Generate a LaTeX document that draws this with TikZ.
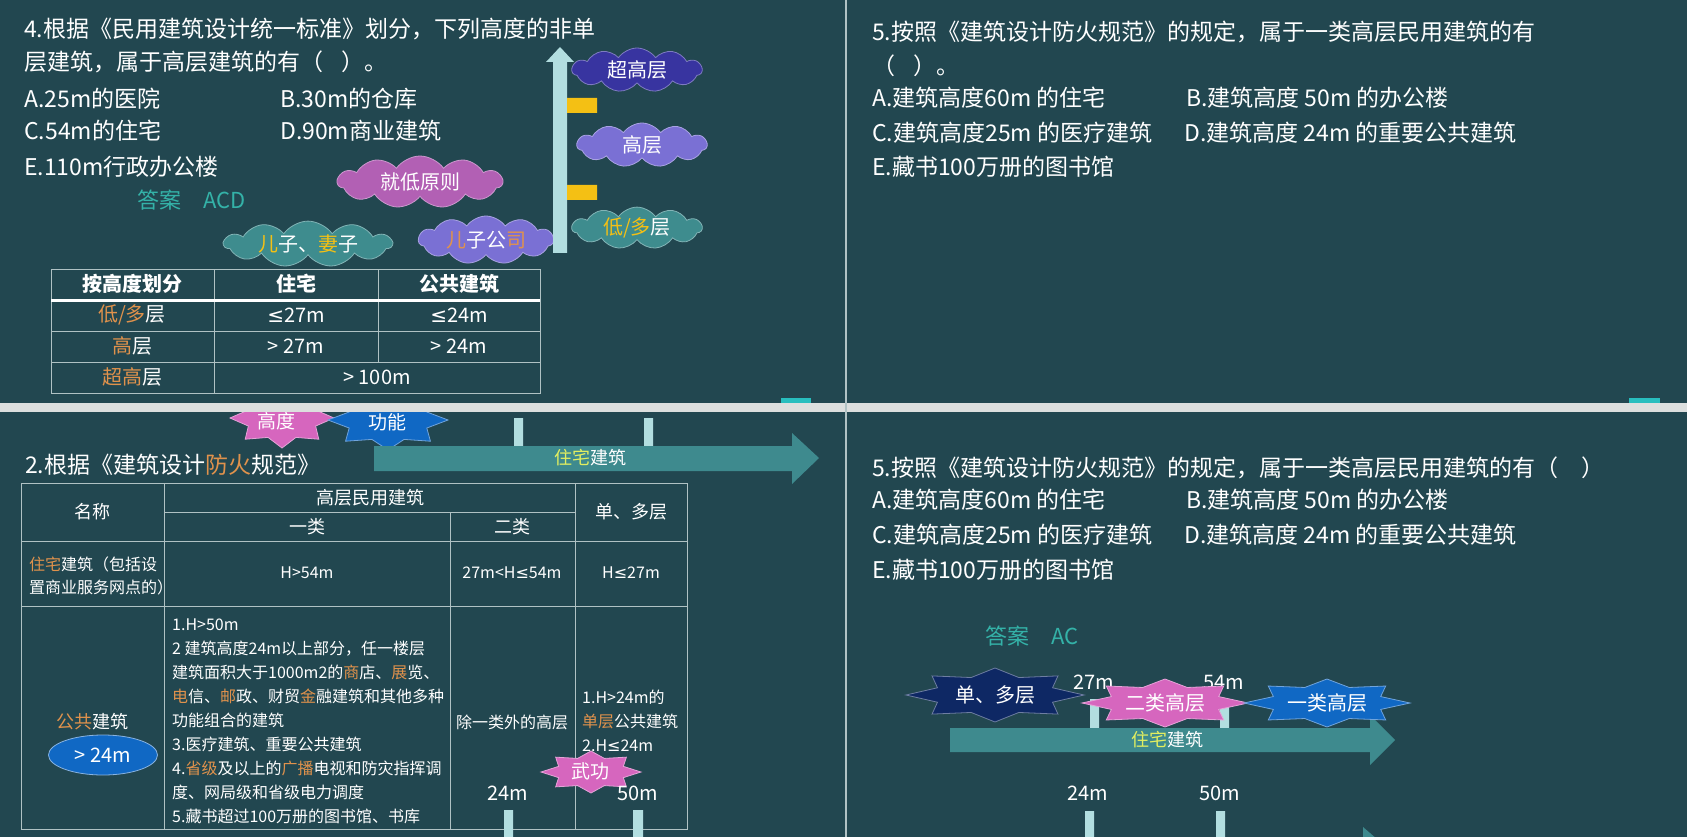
\documentclass[tikz,border=0pt]{standalone}
\usepackage{fontspec}
\setmainfont{Noto Sans CJK SC}
\newfontfamily\symf{DejaVu Sans}
\usetikzlibrary{shapes.symbols,shapes.geometric}
\definecolor{slidebg}{RGB}{34,71,80}
\definecolor{hl}{RGB}{224,146,76}
\definecolor{ans}{RGB}{52,178,168}
\definecolor{lime}{RGB}{226,238,96}
\definecolor{gold}{RGB}{244,192,20}
\definecolor{gridc}{RGB}{176,194,196}
\definecolor{barc}{RGB}{178,222,224}
\definecolor{arrowc}{RGB}{62,138,142}
\definecolor{pinkc}{RGB}{214,102,190}
\definecolor{bluec}{RGB}{16,104,196}
\definecolor{navyc}{RGB}{14,40,100}
\definecolor{mauvec}{RGB}{178,96,180}
\definecolor{lilac}{RGB}{122,112,212}
\definecolor{indigoc}{RGB}{56,52,160}
\definecolor{tealc}{RGB}{62,140,142}
\definecolor{bandc}{RGB}{220,223,222}
\definecolor{tabc}{RGB}{40,190,190}
\newcommand\hi[1]{\textcolor{hl}{#1}}
\newcommand\lteq{{\symf\char"2264}}
\newcommand\fs[1]{\fontsize{#1}{24}\selectfont}
% burst: centre, x radius, y radius, colour
\newcommand\burst[4]{\fill[#4,draw=white!40!#4,line width=.8,shift={(#1)}]
 plot[samples at={0,...,15}]({\x*22.5}:{#2*(1-.3*mod(\x,2))} and {#3*(1-.3*mod(\x,2))})--cycle;}
\begin{document}
\begin{tikzpicture}[x=1pt,y=-1pt,
 txt/.style={text=white,inner sep=0,font=\fs{23}},
 q/.style={txt,anchor=west},
 cell/.style={text=white,inner sep=0,font=\fs{16}},
 head/.style={cell,font=\fs{18}},
 tag/.style={cell,font=\fs{20}},
 puff/.style={cloud,cloud puffs=11,cloud puff arc=110,cloud ignores aspect,inner sep=0,
  fill=#1,draw=white!35!#1,line width=.8,text=white,font=\fs{20}},
 grid/.style={draw=gridc,line width=1},
 bar/.style={fill=barc}]
\useasboundingbox(0,0)rectangle(1687,837);
\fill[slidebg](0,0)rectangle(1687,837);

% top left
\node[q](q4)at(24,29){4.根据《民用建筑设计统一标准》划分，下列高度的非单};
\node[q](q4b)at(24,62){层建筑，属于高层建筑的有（\hspace{.8em}）。};
\node[q](q4A)at(24,99){A.25m的医院};
\node[q](q4B)at(280,99){B.30m的仓库};
\node[q](q4C)at(24,131){C.54m的住宅};
\node[q](q4D)at(280,131){D.90m商业建筑};
\node[q](q4E)at(24,167){E.110m行政办公楼};
\node[q,text=ans,font=\fs{22}](ans4)at(137,200){答案\hspace{22pt}ACD};
\node[puff=mauvec,minimum width=165,minimum height=52](low)at(420,182){就低原则};
\node[puff=tealc,minimum width=168,minimum height=40](son)at(308,244){\textcolor{gold}{儿}子、\textcolor{gold}{妻}子};
\node[puff=lilac,minimum width=135,minimum height=48](corp)at(486,240){\hi{儿}子公\hi{司}};
\node[puff=indigoc,minimum width=130,minimum height=44](super)at(637,70){超高层};
\node[puff=lilac,minimum width=130,minimum height=44](high)at(642,145){高层};
\node[puff=tealc,minimum width=130,minimum height=40](multi)at(637,228){\textcolor{gold}{低/多}层};
\fill[barc](553,253)--(553,62)--(546,62)--(560,47)--(574,62)--(567,62)--(567,253)--cycle;
\fill[gold](567,98)rectangle(597,113)(567,185)rectangle(597,200);
\draw[grid](51,269)rectangle(540,393);
\draw[grid](51,331)--(540,331)(51,362)--(540,362)(214,269)--(214,393)(378,269)--(378,362);
\draw[white,line width=3](51,300)--(540,300);
\node[tag,font=\fs{20}\bfseries](t1)at(132,284){按高度划分};
\node[tag,font=\fs{20}\bfseries](t2)at(296,284){住宅};
\node[tag,font=\fs{20}\bfseries](t3)at(459,284){公共建筑};
\node[tag](lowrow)at(132,315){\hi{低/多}层};
\node[tag](low1)at(296,315){\lteq27m};
\node[tag](low2)at(459,315){\lteq24m};
\node[tag](highrow)at(132,346){\hi{高}层};
\node[tag](high1)at(296,346){> 27m};
\node[tag](high2)at(459,346){> 24m};
\node[tag](suprow)at(132,377){\hi{超高}层};
\node[tag](sup1)at(377,377){> 100m};
\fill[tabc](781,398)rectangle(811,403);

% top right
\node[q](q5)at(872,32){5.按照《建筑设计防火规范》的规定，属于一类高层民用建筑的有};
\node[q](q5b)at(872,66){（\hspace{.8em}）。};
\node[q](q5A)at(872,98){A.建筑高度60m 的住宅};
\node[q](q5B)at(1186,98){B.建筑高度 50m 的办公楼};
\node[q](q5C)at(872,133){C.建筑高度25m 的医疗建筑};
\node[q](q5D)at(1184,133){D.建筑高度 24m 的重要公共建筑};
\node[q](q5E)at(872,167){E.藏书100万册的图书馆};
\fill[tabc](1629,398)rectangle(1660,403);

% bottom left
\begin{scope}
\clip(0,412)rectangle(845,837);
\burst{282,418}{52}{30}{pinkc}
\burst{388,420}{60}{30}{bluec}
\end{scope}
\node[head,font=\fs{19}](hgt)at(276,421){高度};
\node[head,font=\fs{19}](fun)at(387,422){功能};
\fill[barc](514,418)rectangle(523,447)(644,418)rectangle(653,447);
\fill[arrowc](374,446)--(792,446)--(792,433)--(819,458)--(792,484)--(792,471)--(374,471)--cycle;
\node[head](res1)at(590,458){\textcolor{lime}{住宅}建筑};
\node[q](q2)at(25,465){2.根据《建筑设计\hi{防火}规范》};
\draw[grid](21,483)rectangle(687,829);
\draw[grid](164,512)--(575,512)(21,541)--(687,541)(21,606)--(687,606)
 (164,483)--(164,829)(450,512)--(450,829)(575,483)--(575,829);
\node[head](name)at(92,512){名称};
\node[head](hr)at(370,498){高层民用建筑};
\node[head](sm)at(631,512){单、多层};
\node[head](c1)at(307,527){一类};
\node[head](c2)at(512,527){二类};
\node[cell,anchor=west,align=left,font=\fontsize{16}{23}\selectfont](home)at(29,576){\hi{住宅}建筑（包括设\\置商业服务网点的）};
\node[cell](home1)at(307,573){H>54m};
\node[cell](home2)at(512,573){27m<H\lteq54m};
\node[cell](home3)at(631,573){H\lteq27m};
\node[head](pub)at(92,722){\hi{公共}建筑};
\node[ellipse,fill=bluec,draw=white!50!bluec,line width=.8,minimum width=109,minimum height=40,
 text=white,inner sep=0,font=\fs{20}](pubh)at(103,755){> 24m};
\node[cell,anchor=west,align=left](pub1)at(172,721){1.H>50m\\
2 建筑高度24m以上部分，任一楼层\\
建筑面积大于1000m2的\hi{商}店、\hi{展}览、\\
\hi{电}信、\hi{邮}政、财贸\hi{金}融建筑和其他多种\\
功能组合的建筑\\
3.医疗建筑、重要公共建筑\\
4.\hi{省级}及以上的\hi{广播}电视和防灾指挥调\\
度、网局级和省级电力调度\\
5.藏书超过100万册的图书馆、书库};
\node[cell](pub2)at(512,722){除一类外的高层};
\node[cell,anchor=west,align=left](pub3)at(582,721){1.H>24m的\\\hi{单层}公共建筑\\2.H\lteq24m};
\fill[barc](504,810)rectangle(513,837)(633,810)rectangle(643,837);
\burst{591,772}{50}{21}{pinkc}
\node[head,font=\fs{19}](wg)at(590,771){武功};
\node[tag](m24)at(508,793){24m};
\node[tag](m50)at(638,793){50m};

% bottom right
\node[q](q5r)at(872,468){5.按照《建筑设计防火规范》的规定，属于一类高层民用建筑的有（\hspace{1em}）};
\node[q](q5rA)at(872,500){A.建筑高度60m 的住宅};
\node[q](q5rB)at(1186,500){B.建筑高度 50m 的办公楼};
\node[q](q5rC)at(872,535){C.建筑高度25m 的医疗建筑};
\node[q](q5rD)at(1184,535){D.建筑高度 24m 的重要公共建筑};
\node[q](q5rE)at(872,570){E.藏书100万册的图书馆};
\node[q,text=ans,font=\fs{22}](ans5)at(985,636){答案\hspace{22pt}AC};
\fill[barc](1090,699)rectangle(1099,728)(1220,699)rectangle(1229,728);
\node[tag](m27)at(1094,682){27m};
\node[tag](m54)at(1224,682){54m};
\fill[arrowc](950,728)--(1370,728)--(1370,715)--(1395,740)--(1370,765)--(1370,752)--(950,752)--cycle;
\burst{995,695}{89}{27}{navyc}
\burst{1165,703}{83}{24}{pinkc}
\burst{1327,703}{83}{24}{bluec}
\node[tag](sm2)at(995,695){单、多层};
\node[tag](cls2)at(1165,703){二类高层};
\node[tag](cls1)at(1327,703){一类高层};
\node[head](res2)at(1167,740){\textcolor{lime}{住宅}建筑};
\node[tag](m24b)at(1088,793){24m};
\node[tag](m50b)at(1220,793){50m};
\fill[barc](1085,811)rectangle(1094,837)(1216,811)rectangle(1225,837);
\fill[arrowc](1363,827)--(1392,852)--(1363,877)--cycle;

% frame
\fill[bandc](0,403)rectangle(1687,412);
\fill[gridc](845,0)rectangle(847,837);
\end{tikzpicture}
\end{document}
